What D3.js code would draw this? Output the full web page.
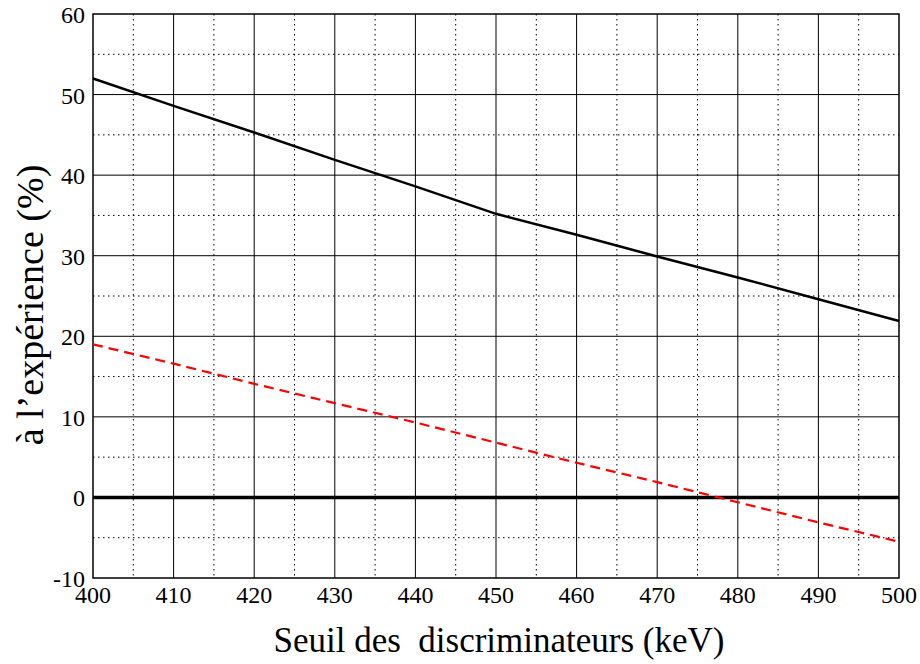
<!DOCTYPE html>
<html>
<head>
<meta charset="utf-8">
<script src="https://cdn.jsdelivr.net/npm/d3@7"></script>
</head>
<body style="margin:0">
<svg id="chart" width="920" height="664"></svg>
<script>
// threshold values (keV)
const seuils = [400, 410, 420, 430, 440, 450, 460, 470, 480, 490, 500];
// solid black curve
const serieNoire = [52.0, 48.6, 45.3, 41.9, 38.6, 35.2, 32.6, 29.9, 27.3, 24.6, 21.9];
// red dashed curve
const serieRouge = [19.0, 16.6, 14.1, 11.7, 9.3, 6.8, 4.3, 1.9, -0.6, -3.1, -5.5];
const xTicks = [400, 410, 420, 430, 440, 450, 460, 470, 480, 490, 500];
const yTicks = [-10, 0, 10, 20, 30, 40, 50, 60];

const pLeft = 93, pRight = 899, pTop = 14, pBottom = 578;
const fontSerif = '"Liberation Serif", "Times New Roman", Times, serif';
const svg = d3.select('#chart').style('font-family', fontSerif);

const x = d3.scaleLinear().domain([400, 500]).range([pLeft, pRight]);
const y = d3.scaleLinear().domain([-10, 60]).range([pBottom, pTop]);

// minor dotted grid
const grid = svg.append('g');
d3.range(405, 500, 10).forEach(v => {
  grid.append('line')
    .attr('x1', x(v)).attr('x2', x(v)).attr('y1', pTop).attr('y2', pBottom)
    .attr('stroke', '#000').attr('stroke-width', 1).attr('stroke-dasharray', '1.5,3.5');
});
d3.range(-5, 60, 10).forEach(v => {
  grid.append('line')
    .attr('y1', y(v)).attr('y2', y(v)).attr('x1', pLeft).attr('x2', pRight)
    .attr('stroke', '#000').attr('stroke-width', 1).attr('stroke-dasharray', '1.5,3.5');
});
// major grid
xTicks.slice(1, -1).forEach(v => {
  grid.append('line')
    .attr('x1', x(v)).attr('x2', x(v)).attr('y1', pTop).attr('y2', pBottom)
    .attr('stroke', '#000').attr('stroke-width', 1);
});
yTicks.slice(1, -1).forEach(v => {
  grid.append('line')
    .attr('y1', y(v)).attr('y2', y(v)).attr('x1', pLeft).attr('x2', pRight)
    .attr('stroke', '#000').attr('stroke-width', v === 0 ? 3.5 : 1);
});

// frame
svg.append('rect')
  .attr('x', pLeft).attr('y', pTop).attr('width', pRight - pLeft).attr('height', pBottom - pTop)
  .attr('fill', 'none').attr('stroke', '#000').attr('stroke-width', 1.5);

const line = d3.line().x(d => x(d[0])).y(d => y(d[1]));

svg.append('path')
  .datum(seuils.map((s, i) => [s, serieNoire[i]]))
  .attr('d', line)
  .attr('fill', 'none').attr('stroke', '#000').attr('stroke-width', 2.5);

svg.append('path')
  .datum(seuils.map((s, i) => [s, serieRouge[i]]))
  .attr('d', line)
  .attr('fill', 'none').attr('stroke', '#ff0000').attr('stroke-width', 2.2)
  .attr('stroke-dasharray', '10,6');

// tick labels
svg.append('g').selectAll('text')
  .data(yTicks)
  .enter().append('text')
  .attr('x', 85)
  .attr('y', d => y(d) + 9)
  .attr('text-anchor', 'end')
  .style('font-family', fontSerif)
  .style('font-size', '24px')
  .text(d => d);

svg.append('g').selectAll('text')
  .data(xTicks)
  .enter().append('text')
  .attr('x', d => x(d))
  .attr('y', pBottom + 25)
  .attr('text-anchor', 'middle')
  .style('font-family', fontSerif)
  .style('font-size', '24px')
  .text(d => d);

// axis titles
svg.append('text')
  .attr('x', 499).attr('y', 652)
  .attr('text-anchor', 'middle')
  .style('font-family', fontSerif)
  .style('font-size', '35px')
  .style('white-space', 'pre')
  .text('Seuil des  discriminateurs (keV)');

svg.append('text')
  .attr('transform', 'translate(43,305) rotate(-90)')
  .attr('text-anchor', 'middle')
  .style('font-family', fontSerif)
  .style('font-size', '38px')
  .text('à l’expérience (%)');
</script>
</body>
</html>
